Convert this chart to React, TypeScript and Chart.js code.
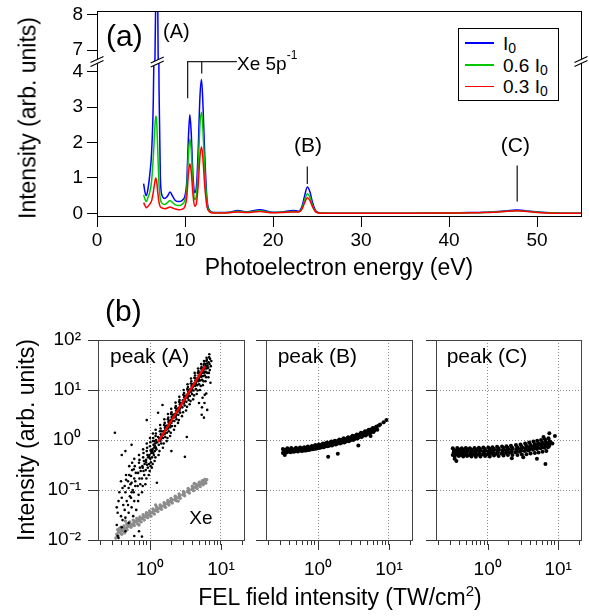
import React, { useEffect, useRef } from 'react';
import { Chart, registerables } from 'chart.js';

Chart.register(...registerables);

const FONT = "'Liberation Sans', Arial, Helvetica, sans-serif";
Chart.defaults.font.family = FONT;
Chart.defaults.color = '#000';

// ---------------- Panel (a): photoelectron spectra ----------------
const energy = [5.3, 5.45, 5.6, 5.8, 6.0, 6.2, 6.4, 6.55, 6.68, 6.78, 6.9, 7.05, 7.2, 7.4, 7.7, 8.0, 8.3, 8.6, 8.9, 9.3, 9.7, 10.0, 10.2, 10.4, 10.55, 10.7, 10.9, 11.1, 11.3, 11.5, 11.7, 11.88, 12.05, 12.25, 12.5, 12.8, 13.2, 14, 15, 16, 17, 18.5, 20, 21, 22.3, 22.9, 23.3, 23.6, 23.9, 24.2, 24.5, 24.9, 25.5, 27, 30, 35, 40, 42, 44, 46, 47.7, 49.5, 51, 53, 55];
const intensityI0 = [0.84, 0.6, 0.5, 0.7, 1.1, 1.7, 3.2, 6.0, 8.6, 9.5, 8.4, 3.5, 1.0, 0.5, 0.42, 0.48, 0.6, 0.48, 0.36, 0.33, 0.37, 0.5, 0.9, 2.2, 2.78, 2.3, 1.1, 0.58, 0.75, 1.8, 3.3, 3.78, 3.0, 1.6, 0.4, 0.08, 0.02, 0.02, 0.03, 0.08, 0.04, 0.1, 0.03, 0.04, 0.08, 0.06, 0.2, 0.5, 0.74, 0.6, 0.3, 0.06, 0.01, 0.005, 0.005, 0.005, 0.01, 0.02, 0.03, 0.06, 0.09, 0.05, 0.02, 0.005, 0.005];
const intensity06 = [0.52, 0.4, 0.33, 0.45, 0.6, 0.9, 1.6, 2.3, 2.75, 2.6, 1.8, 0.8, 0.4, 0.28, 0.25, 0.3, 0.36, 0.3, 0.24, 0.22, 0.26, 0.38, 0.7, 1.7, 2.1, 1.8, 0.85, 0.38, 0.5, 1.3, 2.5, 2.85, 2.3, 1.2, 0.3, 0.06, 0.02, 0.015, 0.02, 0.06, 0.03, 0.07, 0.02, 0.03, 0.05, 0.04, 0.15, 0.38, 0.55, 0.45, 0.22, 0.04, 0.008, 0.004, 0.004, 0.004, 0.008, 0.015, 0.025, 0.05, 0.075, 0.04, 0.015, 0.004, 0.004];
const intensity03 = [0.3, 0.22, 0.16, 0.2, 0.26, 0.35, 0.6, 0.85, 1.0, 0.9, 0.6, 0.3, 0.18, 0.15, 0.13, 0.15, 0.18, 0.15, 0.12, 0.1, 0.12, 0.2, 0.45, 1.15, 1.4, 1.2, 0.55, 0.2, 0.28, 0.8, 1.6, 1.88, 1.5, 0.75, 0.18, 0.04, 0.01, 0.01, 0.015, 0.04, 0.02, 0.05, 0.015, 0.02, 0.04, 0.035, 0.12, 0.3, 0.44, 0.36, 0.18, 0.03, 0.005, 0.003, 0.003, 0.003, 0.006, 0.012, 0.02, 0.045, 0.07, 0.035, 0.012, 0.003, 0.003];
const seriesColors = ['#0000ff', '#00c800', '#ff0000'];
const energyTicks = [0, 10, 20, 30, 40, 50];
const lowerTicks = [0, 1, 2, 3, 4];
const upperTicks = [7, 8];

// annotation anchors (data units)
const xeBracket = { x1: 10.3, x2: 11.9, xEnd: 15.9, yTop: 4.28, y1: 3.25, y2: 3.95 };
const markerB = { x: 23.9, y1: 0.83, y2: 1.32 };
const markerC = { x: 47.75, y1: 0.33, y2: 1.35 };
const peakBreakEnergy = 6.85;

// ---------------- Panel (b): intensity dependence ----------------
const peakA: number[][] = [
  [0.34, 0.02], [0.35, 0.035], [0.36, 0.06], [0.35, 0.012], [0.37, 0.09], [0.34, 0.045],
  [0.39, 0.03], [0.4, 0.07], [0.41, 0.11], [0.4, 0.018], [0.42, 0.05], [0.39, 0.15], [0.41, 0.025],
  [0.44, 0.04], [0.45, 0.09], [0.46, 0.16], [0.45, 0.028], [0.47, 0.06], [0.44, 0.12], [0.46, 0.2], [0.45, 0.015],
  [0.49, 0.05], [0.5, 0.11], [0.51, 0.2], [0.5, 0.035], [0.52, 0.075], [0.49, 0.15], [0.51, 0.3], [0.5, 0.022], [0.53, 0.13],
  [0.54, 0.07], [0.55, 0.14], [0.56, 0.25], [0.55, 0.045], [0.57, 0.1], [0.54, 0.19], [0.56, 0.35], [0.58, 0.03], [0.55, 0.09],
  [0.59, 0.09], [0.6, 0.17], [0.61, 0.3], [0.6, 0.06], [0.62, 0.12], [0.63, 0.22], [0.6, 0.42], [0.64, 0.04], [0.62, 0.15], [0.59, 0.26],
  [0.67, 0.12], [0.68, 0.22], [0.7, 0.35], [0.69, 0.08], [0.71, 0.17], [0.72, 0.28], [0.7, 0.5], [0.73, 0.13], [0.68, 0.06], [0.74, 0.24], [0.71, 0.4],
  [0.77, 0.17], [0.78, 0.3], [0.8, 0.45], [0.79, 0.12], [0.81, 0.24], [0.82, 0.38], [0.8, 0.65], [0.83, 0.2], [0.77, 0.09], [0.84, 0.33], [0.81, 0.55], [0.79, 0.28],
  [0.87, 0.25], [0.88, 0.4], [0.9, 0.6], [0.89, 0.17], [0.91, 0.32], [0.92, 0.5], [0.9, 0.85], [0.93, 0.28], [0.86, 0.13], [0.94, 0.45], [0.91, 0.7], [0.88, 0.36],
  [0.97, 0.33], [0.98, 0.5], [1.0, 0.75], [0.99, 0.24], [1.01, 0.42], [1.02, 0.62], [1.0, 1.1], [1.03, 0.36], [0.96, 0.2], [1.04, 0.55], [1.01, 0.9], [0.98, 0.45], [1.02, 0.3],
  [1.07, 0.45], [1.08, 0.65], [1.1, 0.95], [1.09, 0.33], [1.11, 0.55], [1.12, 0.8], [1.1, 1.35], [1.13, 0.5], [1.06, 0.28], [1.14, 0.7], [1.11, 1.1], [1.08, 0.6],
  [1.17, 0.6], [1.18, 0.85], [1.2, 1.2], [1.19, 0.45], [1.21, 0.7], [1.22, 1.0], [1.2, 1.6], [1.23, 0.65], [1.16, 0.38], [1.24, 0.9], [1.21, 1.35], [1.18, 0.75],
  [1.33, 0.8], [1.35, 1.1], [1.38, 1.5], [1.36, 0.6], [1.4, 0.95], [1.42, 1.3], [1.39, 2.0], [1.44, 0.85], [1.32, 0.5], [1.45, 1.2], [1.41, 1.7], [1.37, 1.0], [1.43, 1.05],
  [1.53, 1.1], [1.55, 1.5], [1.58, 2.0], [1.56, 0.85], [1.6, 1.3], [1.62, 1.75], [1.59, 2.6], [1.64, 1.15], [1.52, 0.7], [1.65, 1.6], [1.61, 2.2], [1.57, 1.4], [1.63, 1.4],
  [1.73, 1.4], [1.75, 1.95], [1.78, 2.6], [1.76, 1.1], [1.8, 1.7], [1.82, 2.3], [1.79, 3.3], [1.84, 1.5], [1.72, 0.95], [1.85, 2.1], [1.81, 2.8], [1.77, 1.8], [1.83, 1.85],
  [1.93, 1.8], [1.95, 2.5], [1.98, 3.3], [1.96, 1.4], [2.0, 2.2], [2.02, 2.9], [1.99, 4.2], [2.04, 1.9], [1.92, 1.2], [2.05, 2.7], [2.01, 3.6], [1.97, 2.3], [2.03, 2.4],
  [2.2, 2.4], [2.23, 3.3], [2.27, 4.4], [2.25, 1.9], [2.3, 2.9], [2.33, 3.9], [2.29, 5.6], [2.36, 2.6], [2.18, 1.6], [2.38, 3.6], [2.31, 4.8], [2.26, 3.1], [2.34, 3.2],
  [2.5, 3.2], [2.53, 4.4], [2.57, 5.8], [2.55, 2.5], [2.6, 3.9], [2.63, 5.2], [2.59, 7.3], [2.66, 3.5], [2.48, 2.2], [2.68, 4.8], [2.61, 6.3], [2.56, 4.1], [2.64, 4.3],
  [2.85, 4.5], [2.9, 6.2], [2.95, 8.0], [2.92, 3.6], [3.0, 5.4], [3.04, 7.2], [2.98, 10], [3.08, 4.9], [2.82, 3.0], [3.1, 6.6], [3.02, 8.7], [2.94, 5.8], [3.06, 6.0],
  [3.25, 5.8], [3.3, 8.0], [3.35, 10.5], [3.32, 4.6], [3.4, 7.0], [3.45, 9.3], [3.38, 13], [3.5, 6.3], [3.22, 3.9], [3.52, 8.5], [3.42, 11.5], [3.34, 7.5], [3.47, 7.7],
  [3.65, 7.6], [3.7, 10.5], [3.75, 13.5], [3.72, 6.0], [3.8, 9.2], [3.85, 12], [3.78, 17], [3.9, 8.3], [3.62, 5.2], [3.92, 11], [3.82, 15], [3.74, 9.8], [3.88, 10],
  [4.1, 9.8], [4.15, 13.5], [4.22, 17.5], [4.18, 7.8], [4.3, 12], [4.36, 15.5], [4.26, 22], [4.42, 10.5], [4.05, 6.5], [4.45, 14], [4.32, 19.5], [4.2, 12.5], [4.38, 13],
  [4.6, 12.5], [4.66, 17], [4.72, 22], [4.68, 9.8], [4.8, 15], [4.86, 19.5], [4.76, 27], [4.92, 13], [4.55, 8.3], [4.95, 18], [4.82, 24], [4.7, 16], [4.88, 16.5], [4.9, 5.5],
  [5.1, 15.5], [5.16, 21], [5.22, 27], [5.18, 12], [5.3, 18.5], [5.36, 24], [5.26, 33], [5.42, 16], [5.05, 10], [5.45, 22], [5.32, 29], [5.2, 19.5], [5.4, 4.5], [5.5, 7], [5.35, 3.2],
  [5.6, 19], [5.66, 25], [5.72, 32], [5.68, 15], [5.8, 22], [5.86, 29], [5.76, 38], [5.92, 19.5], [5.55, 12.5], [5.95, 27], [5.82, 34], [5.7, 23], [5.9, 8], [5.75, 2.8], [5.85, 5.5],
  [6.1, 23], [6.15, 30], [6.22, 38], [6.18, 18], [6.3, 27], [6.36, 34], [6.26, 44], [6.42, 22], [6.05, 15], [6.45, 31], [6.32, 40], [6.2, 8.5], [6.4, 4],
  [6.6, 28], [6.7, 36], [6.8, 45], [6.75, 22], [6.9, 33], [7.0, 42], [6.85, 52], [7.2, 30], [6.65, 18], [7.3, 38], [6.95, 25], [7.1, 14],
  [0.32, 1.4], [0.77, 0.0117], [0.4, 0.5], [0.55, 0.8], [0.36, 0.011], [0.6, 0.012], [0.45, 0.6], [1.3, 3.5], [2.0, 0.6], [3.3, 1.15], [0.9, 2.5], [1.5, 5], [0.7, 0.015], [1.25, 0.14], [3.1, 0.46],
  [1.05, 0.6], [1.25, 0.9], [1.5, 1.25], [1.7, 1.6], [1.9, 2.0], [2.15, 2.8], [2.45, 3.7], [2.75, 5.0], [3.15, 6.8], [3.55, 9], [4.0, 11.5], [4.5, 15], [5.0, 19], [5.5, 24], [6.0, 28],
  [1.15, 0.95], [1.3, 1.15], [1.45, 1.5], [1.65, 1.9], [1.85, 2.4], [2.1, 3.2], [2.4, 4.2], [2.7, 5.5], [3.1, 7.6], [3.5, 10], [3.95, 13], [4.4, 17], [4.95, 22], [5.45, 27], [5.95, 33],
];
const xeA: number[][] = [
  [0.34, 0.013], [0.35, 0.016], [0.36, 0.0145], [0.355, 0.012], [0.37, 0.017],
  [0.38, 0.014], [0.39, 0.018], [0.385, 0.0155], [0.4, 0.013], [0.39, 0.0165],
  [0.42, 0.015], [0.43, 0.019], [0.425, 0.0168], [0.44, 0.014], [0.43, 0.0175],
  [0.46, 0.017], [0.47, 0.021], [0.48, 0.0185], [0.475, 0.016], [0.49, 0.02],
  [0.51, 0.019], [0.52, 0.023], [0.53, 0.0205], [0.54, 0.018], [0.52, 0.0215],
  [0.57, 0.02], [0.58, 0.025], [0.59, 0.022], [0.6, 0.0195], [0.61, 0.0235],
  [0.63, 0.023], [0.65, 0.027], [0.66, 0.0245], [0.67, 0.021], [0.68, 0.026],
  [0.71, 0.024], [0.72, 0.029], [0.74, 0.0265], [0.75, 0.023], [0.73, 0.0275],
  [0.78, 0.027], [0.8, 0.032], [0.82, 0.029], [0.83, 0.025], [0.81, 0.0305],
  [0.87, 0.029], [0.89, 0.035], [0.91, 0.0315], [0.93, 0.028], [0.9, 0.033],
  [0.97, 0.032], [0.99, 0.038], [1.01, 0.0345], [1.03, 0.03], [1.0, 0.036],
  [1.08, 0.035], [1.1, 0.042], [1.13, 0.038], [1.15, 0.033], [1.12, 0.04],
  [1.21, 0.039], [1.24, 0.046], [1.27, 0.0415], [1.29, 0.037], [1.25, 0.0435],
  [1.36, 0.043], [1.39, 0.05], [1.42, 0.0455], [1.45, 0.041], [1.4, 0.048],
  [1.55, 0.048], [1.58, 0.056], [1.62, 0.051], [1.65, 0.045], [1.6, 0.053],
  [1.75, 0.053], [1.78, 0.062], [1.82, 0.0565], [1.85, 0.05], [1.8, 0.059],
  [1.95, 0.058], [1.98, 0.068], [2.02, 0.0615], [2.06, 0.055], [2.0, 0.064],
  [2.22, 0.064], [2.27, 0.075], [2.32, 0.069], [2.36, 0.061], [2.3, 0.072],
  [2.52, 0.071], [2.57, 0.083], [2.62, 0.076], [2.67, 0.068], [2.6, 0.079],
  [2.9, 0.08], [2.96, 0.094], [3.02, 0.086], [3.08, 0.077], [3.0, 0.089],
  [3.38, 0.092], [3.45, 0.107], [3.52, 0.098], [3.58, 0.087], [3.5, 0.101],
  [3.88, 0.102], [3.95, 0.119], [4.02, 0.109], [4.1, 0.097], [4.0, 0.113],
  [4.35, 0.113], [4.45, 0.131], [4.52, 0.12], [4.6, 0.107], [4.5, 0.125],
  [4.85, 0.123], [4.95, 0.143], [5.02, 0.131], [5.1, 0.117], [5.0, 0.136],
  [5.35, 0.133], [5.45, 0.154], [5.55, 0.141], [5.62, 0.127], [5.5, 0.146],
  [5.8, 0.142], [5.9, 0.162], [6.0, 0.15], [6.1, 0.137], [5.95, 0.155],
  [0.33, 0.011], [0.45, 0.024], [0.7, 0.02], [1.2, 0.05], [2.5, 0.06], [4.2, 0.135], [6.3, 0.16],
];
const peakB: number[][] = [
  [0.32, 0.55], [0.33, 0.62], [0.32, 0.66], [0.34, 0.58], [0.33, 0.6], [0.35, 0.64],
  [0.36, 0.56], [0.37, 0.63], [0.38, 0.6], [0.37, 0.68], [0.39, 0.58], [0.38, 0.65],
  [0.41, 0.57], [0.42, 0.64], [0.43, 0.61], [0.42, 0.69], [0.44, 0.59], [0.43, 0.66],
  [0.46, 0.58], [0.47, 0.65], [0.48, 0.62], [0.49, 0.7], [0.5, 0.6], [0.48, 0.67],
  [0.52, 0.59], [0.54, 0.66], [0.55, 0.63], [0.56, 0.71], [0.57, 0.61], [0.55, 0.68],
  [0.6, 0.6], [0.61, 0.67], [0.63, 0.645], [0.64, 0.72], [0.65, 0.62], [0.62, 0.69],
  [0.68, 0.62], [0.69, 0.69], [0.71, 0.66], [0.72, 0.74], [0.73, 0.63], [0.7, 0.71],
  [0.77, 0.64], [0.79, 0.71], [0.81, 0.68], [0.82, 0.76], [0.83, 0.65], [0.8, 0.73],
  [0.87, 0.66], [0.89, 0.74], [0.91, 0.7], [0.92, 0.79], [0.93, 0.67], [0.9, 0.76],
  [0.97, 0.68], [0.99, 0.76], [1.01, 0.73], [1.03, 0.81], [1.04, 0.69], [1.0, 0.78],
  [1.1, 0.71], [1.13, 0.79], [1.16, 0.76], [1.18, 0.85], [1.2, 0.72], [1.15, 0.82],
  [1.25, 0.74], [1.28, 0.83], [1.31, 0.79], [1.34, 0.89], [1.36, 0.75], [1.3, 0.86],
  [1.43, 0.77], [1.47, 0.86], [1.5, 0.82], [1.54, 0.93], [1.57, 0.78], [1.5, 0.9],
  [1.62, 0.8], [1.66, 0.9], [1.7, 0.86], [1.74, 0.97], [1.78, 0.81], [1.7, 0.94],
  [1.85, 0.84], [1.9, 0.95], [1.95, 0.9], [2.0, 1.02], [2.05, 0.85], [1.95, 0.98],
  [2.15, 0.88], [2.2, 1.0], [2.25, 0.95], [2.3, 1.08], [2.35, 0.89], [2.25, 1.03],
  [2.48, 0.93], [2.55, 1.06], [2.6, 1.01], [2.66, 1.14], [2.72, 0.94], [2.6, 1.09],
  [2.85, 0.99], [2.93, 1.12], [3.0, 1.07], [3.07, 1.21], [3.14, 1.0], [3.0, 1.16],
  [3.3, 1.05], [3.38, 1.2], [3.45, 1.14], [3.52, 1.29], [3.6, 1.07], [3.45, 1.24],
  [3.78, 1.13], [3.87, 1.29], [3.95, 1.23], [4.03, 1.39], [4.12, 1.15], [3.95, 1.33],
  [4.3, 1.21], [4.4, 1.38], [4.5, 1.32], [4.6, 1.49], [4.7, 1.23], [4.5, 1.43],
  [4.88, 1.31], [5.0, 1.49], [5.1, 1.42], [5.2, 1.6], [5.32, 1.33], [5.1, 1.54],
  [5.55, 1.42], [5.68, 1.62], [5.8, 1.54], [5.92, 1.73], [6.05, 1.45], [5.8, 1.67],
  [6.25, 1.54], [6.4, 1.74], [6.55, 1.67], [6.7, 1.86], [6.85, 1.6], [6.5, 1.8],
  [7.5, 2.05], [8.4, 2.26], [9.2, 2.5], [7.2, 1.95], [1.39, 0.46], [1.9, 0.53], [3.7, 0.78], [0.34, 0.5], [5.5, 1.2],
];
const peakC: number[][] = [
  [0.32, 0.5], [0.33, 0.57], [0.33, 0.64], [0.34, 0.53], [0.35, 0.61], [0.32, 0.68], [0.34, 0.47],
  [0.37, 0.51], [0.38, 0.58], [0.39, 0.65], [0.38, 0.54], [0.4, 0.61], [0.37, 0.69], [0.39, 0.48],
  [0.42, 0.5], [0.43, 0.57], [0.45, 0.64], [0.44, 0.53], [0.46, 0.6], [0.43, 0.68], [0.45, 0.47],
  [0.48, 0.51], [0.49, 0.58], [0.51, 0.65], [0.5, 0.54], [0.52, 0.61], [0.49, 0.69], [0.51, 0.48],
  [0.55, 0.5], [0.57, 0.57], [0.59, 0.64], [0.58, 0.53], [0.6, 0.6], [0.56, 0.68], [0.59, 0.47],
  [0.64, 0.51], [0.66, 0.58], [0.68, 0.65], [0.67, 0.54], [0.69, 0.61], [0.65, 0.69], [0.68, 0.46],
  [0.74, 0.51], [0.76, 0.58], [0.78, 0.66], [0.77, 0.54], [0.8, 0.62], [0.75, 0.7], [0.79, 0.47],
  [0.86, 0.52], [0.88, 0.59], [0.91, 0.66], [0.9, 0.55], [0.93, 0.62], [0.87, 0.71], [0.92, 0.48],
  [1.0, 0.52], [1.03, 0.59], [1.06, 0.67], [1.05, 0.55], [1.08, 0.63], [1.02, 0.71], [1.07, 0.47],
  [1.15, 0.53], [1.18, 0.6], [1.22, 0.67], [1.2, 0.56], [1.24, 0.63], [1.17, 0.72], [1.23, 0.49],
  [1.34, 0.53], [1.38, 0.61], [1.42, 0.68], [1.4, 0.56], [1.45, 0.64], [1.36, 0.73], [1.43, 0.48],
  [1.58, 0.54], [1.62, 0.61], [1.67, 0.69], [1.65, 0.57], [1.7, 0.65], [1.6, 0.74], [1.68, 0.49],
  [1.82, 0.55], [1.87, 0.62], [1.92, 0.7], [1.9, 0.58], [1.96, 0.66], [1.85, 0.75], [1.94, 0.5],
  [2.1, 0.56], [2.16, 0.63], [2.22, 0.71], [2.2, 0.59], [2.27, 0.67], [2.14, 0.77], [2.25, 0.5],
  [2.48, 0.57], [2.55, 0.64], [2.62, 0.72], [2.6, 0.6], [2.68, 0.68], [2.52, 0.79], [2.65, 0.5],
  [2.87, 0.58], [2.95, 0.66], [3.03, 0.74], [3.0, 0.62], [3.1, 0.7], [2.92, 0.81], [3.06, 0.51],
  [3.35, 0.6], [3.44, 0.68], [3.53, 0.77], [3.5, 0.64], [3.6, 0.73], [3.4, 0.85], [3.56, 0.52],
  [3.82, 0.62], [3.93, 0.71], [4.03, 0.8], [4.0, 0.66], [4.12, 0.76], [3.88, 0.89], [4.07, 0.54],
  [4.4, 0.64], [4.52, 0.73], [4.63, 0.83], [4.6, 0.68], [4.72, 0.79], [4.46, 0.93], [4.68, 0.55],
  [4.98, 0.66], [5.1, 0.76], [5.22, 0.86], [5.2, 0.7], [5.34, 0.82], [5.04, 0.97], [5.28, 0.56],
  [5.65, 0.68], [5.8, 0.78], [5.93, 0.89], [5.9, 0.72], [6.05, 0.85], [5.72, 1.0], [6.0, 0.58],
  [6.4, 0.7], [6.55, 0.8], [6.7, 0.92], [6.65, 0.74], [6.85, 0.88], [6.5, 1.04], [6.8, 0.6],
  [7.2, 0.72], [7.4, 0.82], [7.6, 0.94], [7.5, 0.77], [7.8, 0.9], [7.3, 1.08],
  [0.36, 0.38], [0.34, 0.42], [6.6, 0.33], [7.5, 1.37], [9.0, 1.2], [8.3, 0.85], [3.2, 0.45], [5.0, 0.42], [2.2, 0.43], [6.2, 1.15],
];
const fitX = [1.3, 5.95];
const fitY = [0.91, 30];
const fieldTicks = [0.2, 0.3, 0.4, 0.5, 0.6, 0.7, 0.8, 0.9, 1, 2, 3, 4, 5, 6, 7, 8, 9, 10, 20];
const fieldMajor = [1, 10];
const fieldLabels = ['10\u2070', '10\u00b9'];
const intensityDecades = [0.01, 0.1, 1, 10, 100];
const decadeLabels = ['10\u207b\u00b2', '10\u207b\u00b9', '10\u2070', '10\u00b9', '10\u00b2'];
const gridDecades = [0.1, 1, 10];

// ---------------- helpers ----------------
const toXY = (xs: number[], ys: number[]) => xs.map((x, i) => ({ x, y: ys[i] }));
const pairs = (p: number[][]) => p.map(([x, y]) => ({ x, y }));
const zeroPad = (s: any) => { s.paddingTop = 0; s.paddingBottom = 0; s.paddingLeft = 0; s.paddingRight = 0; };
const fixW = (w: number) => (s: any) => { s.width = w; zeroPad(s); };
const fixH = (h: number) => (s: any) => { s.height = h; zeroPad(s); };
const setTicks = (vals: number[]) => (s: any) => { s.ticks = vals.map((value) => ({ value })); };
const crisp = (v: number) => Math.round(v) + 0.5;
const seg = (ctx: any, x1: number, y1: number, x2: number, y2: number) => {
  ctx.beginPath(); ctx.moveTo(x1, y1); ctx.lineTo(x2, y2); ctx.stroke();
};
const drawBreak = (ctx: any, x: number, y: number) => {
  const dx = 6.5, dy = 3, g = 1.9;
  ctx.save();
  ctx.beginPath();
  ctx.moveTo(x - dx, y + dy - g); ctx.lineTo(x + dx, y - dy - g);
  ctx.lineTo(x + dx, y - dy + g); ctx.lineTo(x - dx, y + dy + g); ctx.closePath();
  ctx.fillStyle = '#fff'; ctx.fill();
  ctx.strokeStyle = '#000'; ctx.lineWidth = 1.1;
  seg(ctx, x - dx, y + dy - g, x + dx, y - dy - g);
  seg(ctx, x - dx, y + dy + g, x + dx, y - dy + g);
  ctx.restore();
};

const baseOptions = (padding: any) => ({
  animation: false,
  responsive: false,
  maintainAspectRatio: false,
  events: [],
  layout: { padding, autoPadding: false },
  plugins: { legend: { display: false }, tooltip: { enabled: false }, title: { display: false } },
});

const spectraDatasets = () =>
  [
    { data: toXY(energy, intensity03), borderColor: seriesColors[2] },
    { data: toXY(energy, intensity06), borderColor: seriesColors[1] },
    { data: toXY(energy, intensityI0), borderColor: seriesColors[0] },
  ].map((d) => ({ ...d, showLine: true, pointRadius: 0, borderWidth: 1.5, cubicInterpolationMode: 'monotone', clip: 0, fill: false }));

const yAxisA = (min: number, max: number, ticks: number[]) => ({
  type: 'linear', min, max,
  afterBuildTicks: setTicks(ticks),
  afterFit: fixW(97),
  grid: { drawOnChartArea: false, color: '#000', tickColor: '#000', tickLength: 10 },
  border: { color: '#000', width: 1 },
  ticks: { font: { size: 19 }, color: '#000', padding: 4 },
});

const upperPlugin = {
  id: 'upperFrame',
  afterDraw(chart: any) {
    const { ctx, chartArea: a } = chart;
    ctx.save(); ctx.strokeStyle = '#000'; ctx.lineWidth = 1;
    seg(ctx, a.left, crisp(a.top), a.right, crisp(a.top));
    seg(ctx, crisp(a.right), a.top, crisp(a.right), a.bottom);
    ctx.restore();
  },
};

const lowerPlugin = {
  id: 'lowerDecor',
  afterDraw(chart: any) {
    const { ctx, chartArea: a, scales } = chart;
    const X = (v: number) => scales.x.getPixelForValue(v);
    const Y = (v: number) => scales.y.getPixelForValue(v);
    ctx.save(); ctx.strokeStyle = '#000'; ctx.lineWidth = 1;
    seg(ctx, crisp(a.right), a.top, crisp(a.right), a.bottom + 0.5);
    ctx.strokeStyle = '#222'; ctx.lineWidth = 1.3;
    ctx.beginPath();
    ctx.moveTo(X(xeBracket.x1), Y(xeBracket.y1));
    ctx.lineTo(X(xeBracket.x1), Y(xeBracket.yTop));
    ctx.lineTo(X(xeBracket.xEnd), Y(xeBracket.yTop));
    ctx.stroke();
    seg(ctx, X(xeBracket.x2), Y(xeBracket.yTop), X(xeBracket.x2), Y(xeBracket.y2));
    seg(ctx, X(markerB.x), Y(markerB.y1), X(markerB.x), Y(markerB.y2));
    seg(ctx, X(markerC.x), Y(markerC.y1), X(markerC.x), Y(markerC.y2));
    ctx.restore();
    drawBreak(ctx, a.left, a.top + 0.5);
    drawBreak(ctx, X(peakBreakEnergy), a.top + 1);
    drawBreak(ctx, a.right, a.top + 0.5);
  },
};

const bFramePlugin = {
  id: 'bFrame',
  afterDraw(chart: any) {
    const { ctx, chartArea: a, scales } = chart;
    ctx.save(); ctx.strokeStyle = '#444'; ctx.lineWidth = 1;
    seg(ctx, a.left, crisp(a.top), a.right + 0.5, crisp(a.top));
    seg(ctx, crisp(a.right), a.top, crisp(a.right), a.bottom);
    ctx.strokeStyle = '#333';
    fieldMajor.forEach((v) => {
      const px = crisp(scales.x.getPixelForValue(v));
      seg(ctx, px, a.bottom + 4, px, a.bottom + 10);
    });
    ctx.restore();
  },
};

const bScales = (yW: number, showYLabels: boolean, yTitle: string | null) => ({
  x: {
    type: 'logarithmic', min: 0.185, max: 21.1,
    afterBuildTicks: setTicks(fieldTicks),
    afterFit: fixH(76),
    grid: {
      color: (c: any) => (c.tick && fieldMajor.includes(c.tick.value) ? '#8a8a8a' : 'rgba(0,0,0,0)'),
      tickColor: '#333', tickLength: 5, lineWidth: 1,
    },
    border: { color: '#444', width: 1, dash: [1, 2] },
    ticks: {
      font: { size: 19 }, color: '#000', padding: 13, maxRotation: 0, minRotation: 0, autoSkip: false,
      callback: (v: any) => { const i = fieldMajor.indexOf(v); return i >= 0 ? fieldLabels[i] : ''; },
    },
  },
  y: {
    type: 'logarithmic', min: 0.01, max: 100,
    afterBuildTicks: setTicks(intensityDecades),
    afterFit: fixW(yW),
    grid: {
      color: (c: any) => (c.tick && gridDecades.includes(c.tick.value) ? '#8a8a8a' : 'rgba(0,0,0,0)'),
      tickColor: '#333', tickLength: 10, lineWidth: 1,
    },
    border: { color: '#444', width: 1, dash: [1, 2] },
    ticks: {
      font: { size: 19 }, color: '#000', padding: 7, autoSkip: false,
      callback: (v: any) => { if (!showYLabels) return ''; const i = intensityDecades.indexOf(v); return i >= 0 ? decadeLabels[i] : ''; },
    },
    title: yTitle
      ? { display: true, text: yTitle, font: { size: 23 }, color: '#000', padding: { top: 14.2, bottom: 0 } }
      : { display: false },
  },
});

const scatterSet = (p: number[][], color: string, r: number) => ({
  data: pairs(p), backgroundColor: color, borderWidth: 0, pointRadius: r, pointStyle: 'circle', showLine: false,
});

// ---------------- chart configs ----------------
const makeUpper = () => ({
  type: 'scatter',
  data: { datasets: spectraDatasets() },
  options: {
    ...baseOptions({ left: 0, top: 11, right: 8, bottom: 1 }),
    scales: {
      x: { type: 'linear', min: 0, max: 55, display: false },
      y: yAxisA(6.686, 8.114, upperTicks),
    },
  },
  plugins: [upperPlugin],
});

const makeLower = () => ({
  type: 'scatter',
  data: { datasets: spectraDatasets() },
  options: {
    ...baseOptions({ left: 0, top: 61, right: 8, bottom: 0 }),
    scales: {
      x: {
        type: 'linear', min: 0, max: 55,
        afterBuildTicks: setTicks(energyTicks),
        afterFit: fixH(84),
        grid: { drawOnChartArea: false, color: '#000', tickColor: '#000', tickLength: 11 },
        border: { color: '#000', width: 1 },
        ticks: { font: { size: 19 }, color: '#000', padding: 2, maxRotation: 0, autoSkip: false },
        title: { display: true, text: 'Photoelectron energy (eV)', font: { size: 23 }, color: '#000', padding: { top: 0, bottom: 17.2 } },
      },
      y: yAxisA(-0.076, 4.3, lowerTicks),
    },
  },
  plugins: [lowerPlugin],
});

const makeBA = () => ({
  type: 'scatter',
  data: {
    datasets: [
      { data: toXY(fitX, fitY), borderColor: '#ff0000', borderWidth: 2.2, pointRadius: 0, showLine: true },
      scatterSet(peakA, '#000', 1.3),
      scatterSet(xeA, '#8c8c8c', 1.7),
    ],
  },
  options: { ...baseOptions({ left: 0, top: 40, right: 6, bottom: 0 }), scales: bScales(98, true, 'Intensity (arb. units)') },
  plugins: [bFramePlugin],
});

const makeBB = () => ({
  type: 'scatter',
  data: { datasets: [scatterSet(peakB, '#000', 2.0)] },
  options: { ...baseOptions({ left: 0, top: 40, right: 98, bottom: 0 }), scales: bScales(96, false, null) },
  plugins: [bFramePlugin],
});

const makeBC = () => ({
  type: 'scatter',
  data: { datasets: [scatterSet(peakC, '#000', 2.0)] },
  options: { ...baseOptions({ left: 0, top: 40, right: 8, bottom: 0 }), scales: bScales(96, false, null) },
  plugins: [bFramePlugin],
});

// ---------------- components ----------------
function ChartBox({ left, top, width, height, make }: { left: number; top: number; width: number; height: number; make: () => any }) {
  const ref = useRef<HTMLCanvasElement | null>(null);
  useEffect(() => {
    const chart = new Chart(ref.current as HTMLCanvasElement, make());
    return () => chart.destroy();
  }, []);
  return <canvas ref={ref} width={width} height={height} style={{ position: 'absolute', left, top, width, height }} />;
}

function Txt({ x, y, size, center, children }: { x: number; y: number; size: number; center?: boolean; children: any }) {
  return (
    <div style={{ position: 'absolute', left: x, top: y, fontSize: size, lineHeight: 1, whiteSpace: 'nowrap', transform: center ? 'translateX(-50%)' : undefined }}>
      {children}
    </div>
  );
}

const Sub = ({ children }: { children: any }) => <span style={{ fontSize: 14, position: 'relative', top: 3 }}>{children}</span>;

const legendItems = [
  { pre: '', color: seriesColors[0] },
  { pre: '0.6 ', color: seriesColors[1] },
  { pre: '0.3 ', color: seriesColors[2] },
];

export default function App() {
  return (
    <div style={{ position: 'absolute', left: 0, top: 0, width: 589, height: 616, background: '#fff', overflow: 'hidden', fontFamily: FONT, color: '#000' }}>
      <ChartBox left={0} top={0} width={589} height={62} make={makeUpper} />
      <ChartBox left={0} top={0} width={589} height={300} make={makeLower} />
      <ChartBox left={0} top={300} width={250} height={316} make={makeBA} />
      <ChartBox left={170} top={300} width={340} height={316} make={makeBB} />
      <ChartBox left={340} top={300} width={249} height={316} make={makeBC} />

      <div style={{ position: 'absolute', left: 28, top: 117.5, fontSize: 23, lineHeight: 1, whiteSpace: 'nowrap', transform: 'translate(-50%, -50%) rotate(-90deg)' }}>
        Intensity (arb. units)
      </div>

      <Txt x={106} y={21.3} size={30}>(a)</Txt>
      <Txt x={163} y={20.6} size={20}>(A)</Txt>
      <Txt x={237} y={53.9} size={19}>
        Xe 5p<span style={{ fontSize: 12, position: 'relative', top: -11 }}>-1</span>
      </Txt>
      <Txt x={308} y={133.8} size={21} center>(B)</Txt>
      <Txt x={515.3} y={133.8} size={21} center>(C)</Txt>

      <div style={{ position: 'absolute', left: 458, top: 28, width: 101, height: 73, boxSizing: 'border-box', border: '1px solid #000', background: '#fff' }}>
        {legendItems.map((it, i) => (
          <React.Fragment key={i}>
            <div style={{ position: 'absolute', left: 6, top: 13.3 + i * 21.7, width: 29, height: 1.5, background: it.color }} />
            <div style={{ position: 'absolute', left: 44, top: 4.9 + i * 21.7, fontSize: 19, lineHeight: 1, whiteSpace: 'nowrap' }}>
              {it.pre}I<Sub>0</Sub>
            </div>
          </React.Fragment>
        ))}
      </div>

      <Txt x={105} y={296.3} size={30}>(b)</Txt>
      <Txt x={110} y={344.5} size={21}>peak (A)</Txt>
      <Txt x={277.7} y={344.5} size={21}>peak (B)</Txt>
      <Txt x={446.7} y={344.5} size={21}>peak (C)</Txt>
      <Txt x={189.3} y={508.4} size={19}>Xe</Txt>
      <Txt x={340} y={585.5} size={23} center>
        FEL field intensity (TW/cm<span style={{ fontSize: 15, position: 'relative', top: -9 }}>2</span>)
      </Txt>
    </div>
  );
}
